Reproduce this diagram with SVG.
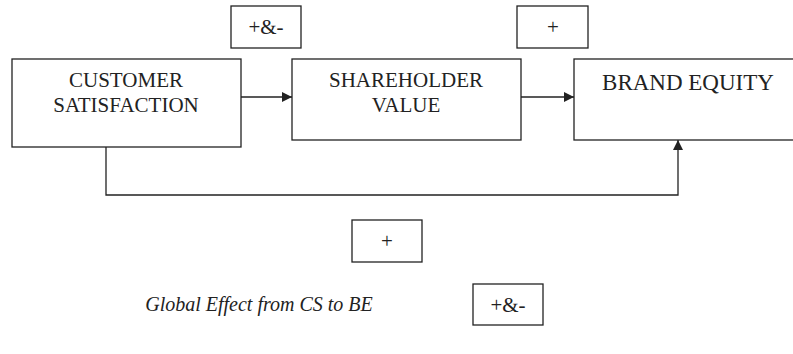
<svg xmlns="http://www.w3.org/2000/svg" width="793" height="354" viewBox="0 0 793 354">
<style>
.box{fill:#fff;stroke:#222;stroke-width:1.3}
.t{font-family:"Liberation Serif","Times New Roman",serif;fill:#222;text-anchor:middle}
.c{fill:none;stroke:#222;stroke-width:1.3}
</style>
<defs>
<marker id="ah" viewBox="0 0 10 10" refX="10" refY="5" markerWidth="10" markerHeight="10" markerUnits="userSpaceOnUse" orient="auto">
<path d="M0,0 L10,5 L0,10 Z" fill="#222"/>
</marker>
</defs>
<rect width="793" height="354" fill="#fff"/>
<g id="connectors">
<line class="c" x1="241" y1="97" x2="292" y2="97" marker-end="url(#ah)"/>
<line class="c" x1="518" y1="97" x2="574" y2="97" marker-end="url(#ah)"/>
<polyline class="c" points="106,147 106,195 678,195 678,140" marker-end="url(#ah)"/>
</g>
<g id="cs">
<rect class="box" x="12" y="59" width="229" height="88"/>
<text class="t" x="126" y="87" font-size="21">CUSTOMER</text>
<text class="t" x="126" y="112" font-size="21">SATISFACTION</text>
</g>
<g id="sv">
<rect class="box" x="292" y="59" width="229" height="81"/>
<text class="t" x="406" y="87" font-size="21">SHAREHOLDER</text>
<text class="t" x="406" y="112" font-size="21">VALUE</text>
</g>
<g id="be">
<rect class="box" x="574" y="59" width="230" height="81"/>
<text class="t" x="688" y="90" font-size="23">BRAND EQUITY</text>
</g>
<g id="sign-cs-sv">
<rect class="box" x="231" y="6" width="70" height="42"/>
<text class="t" x="266" y="34" font-size="21">+&amp;-</text>
</g>
<g id="sign-sv-be">
<rect class="box" x="517" y="6" width="71" height="42"/>
<text class="t" x="553" y="34" font-size="21">+</text>
</g>
<g id="sign-cs-be">
<rect class="box" x="352" y="220" width="70" height="42"/>
<text class="t" x="387" y="248" font-size="21">+</text>
</g>
<g id="global">
<text class="t" x="259" y="311" font-size="20" font-style="italic">Global Effect from CS to BE</text>
<rect class="box" x="473" y="284" width="70" height="41"/>
<text class="t" x="508" y="312" font-size="21">+&amp;-</text>
</g>
</svg>
